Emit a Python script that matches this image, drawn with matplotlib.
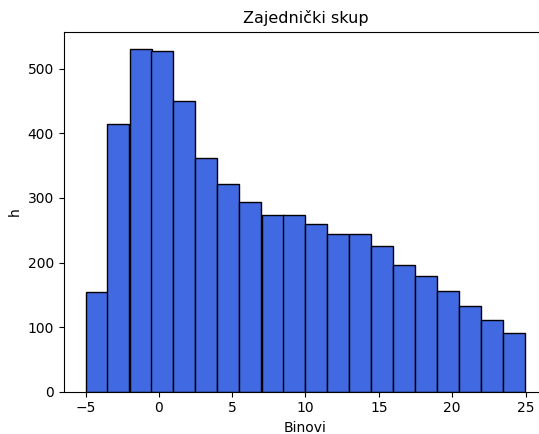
import numpy as np
import matplotlib
matplotlib.use("Agg")
import matplotlib.pyplot as plt

# bin range and counts
bin_start = -5
bin_end = 25
counts = [155, 414, 531, 527, 450, 362, 322, 294, 274, 274,
          259, 245, 245, 226, 197, 179, 156, 133, 111, 91]

edges = np.linspace(bin_start, bin_end, len(counts) + 1)
centers = (edges[:-1] + edges[1:]) / 2

fig = plt.figure(figsize=(5.39, 4.34), dpi=100)
# the original picture is cropped on the right, so the axes run past the edge
ax = fig.add_axes([63.5 / 539, 42.3 / 434, 484 / 539, 360 / 434])
ax.hist(centers, bins=edges, weights=counts, color="royalblue", edgecolor="black")
ax.set_title("Zajednički skup", fontsize=11.5)
ax.set_xlabel("Binovi")
ax.set_ylabel("h")
fig.savefig("out.png", dpi=100)
